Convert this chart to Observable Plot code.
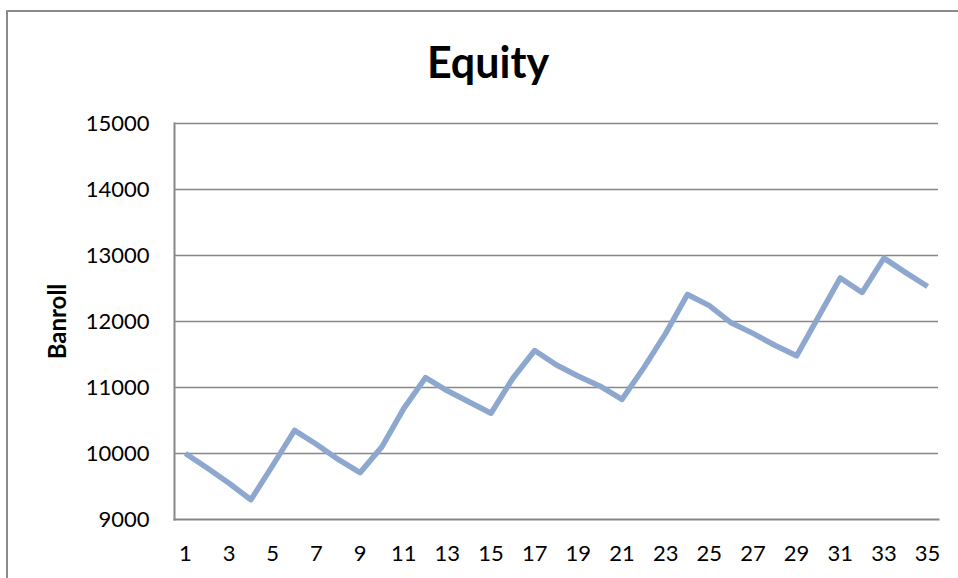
<!DOCTYPE html>
<html>
<head>
<meta charset="utf-8">
<script src="https://cdn.jsdelivr.net/npm/d3@7"></script>
<script src="https://cdn.jsdelivr.net/npm/@observablehq/plot@0.6"></script>
<style>
  html, body { margin: 0; padding: 0; background: #fff; }
  #wrap { position: relative; width: 958px; height: 578px; overflow: hidden; font-family: Lato, "Open Sans", sans-serif; }
  #frame { position: absolute; left: 6px; top: 10px; width: 1000px; height: 700px; border-left: 2px solid #8a8a8a; border-top: 2px solid #8a8a8a; box-sizing: border-box; pointer-events: none; }
  #title { position: relative; width: 976px; height: 100px; box-sizing: border-box; padding-top: 42px; line-height: 40px; text-align: center; font-size: 43px; font-weight: bold; color: #000; }
  #chart svg { display: block; }
</style>
</head>
<body>
<div id="wrap">
  <div id="frame"></div>
  <div id="title">Equity</div>
  <div id="chart"></div>
</div>
<script>
const periods = [1,2,3,4,5,6,7,8,9,10,11,12,13,14,15,16,17,18,19,20,21,22,23,24,25,26,27,28,29,30,31,32,33,34,35];
const bankroll = [10000, 9780, 9550, 9300, 9820, 10350, 10140, 9910, 9710, 10100, 10680, 11150, 10950, 10780, 10610, 11140, 11560, 11340, 11170, 11020, 10820, 11300, 11820, 12410, 12240, 11980, 11820, 11640, 11480, 12070, 12660, 12440, 12960, 12740, 12530];
const yTicks = [9000, 10000, 11000, 12000, 13000, 14000, 15000];
const xTicks = [1,3,5,7,9,11,13,15,17,19,21,23,25,27,29,31,33,35];
const yLabel = "Banroll";

const data = periods.map((p, i) => ({period: p, value: bankroll[i]}));

const chart = Plot.plot({
  width: 958,
  height: 478,
  marginTop: 23,
  marginBottom: 59,
  marginLeft: 174,
  marginRight: 20,
  style: {fontFamily: "Lato, 'Open Sans', sans-serif", color: "#000", background: "transparent"},
  x: {type: "band", domain: periods, padding: 0, align: 0.5, round: false},
  y: {domain: [9000, 15000]},
  marks: [
    Plot.ruleY(yTicks.slice(1), {stroke: "#878787", strokeWidth: 1.6}),
    Plot.frame({anchor: "left", stroke: "#878787", strokeWidth: 2}),
    Plot.frame({anchor: "bottom", stroke: "#878787", strokeWidth: 2}),
    Plot.axisY({ticks: yTicks, tickSize: 0, tickPadding: 25, fontSize: 22, label: null, tickFormat: d => String(d)}),
    Plot.axisX({ticks: xTicks, tickSize: 0, tickPadding: 26, fontSize: 22, label: null, tickFormat: d => String(d)}),
    Plot.line(data, {x: "period", y: "value", stroke: "#8DA7CF", strokeWidth: 5.5, strokeLinejoin: "round", strokeLinecap: "butt"}),
    Plot.text([yLabel], {frameAnchor: "left", textAnchor: "middle", lineAnchor: "middle", rotate: -90, dx: -116, fontSize: 24, fontWeight: "bold", fill: "#000"})
  ]
});
document.getElementById("chart").appendChild(chart);
</script>
</body>
</html>
